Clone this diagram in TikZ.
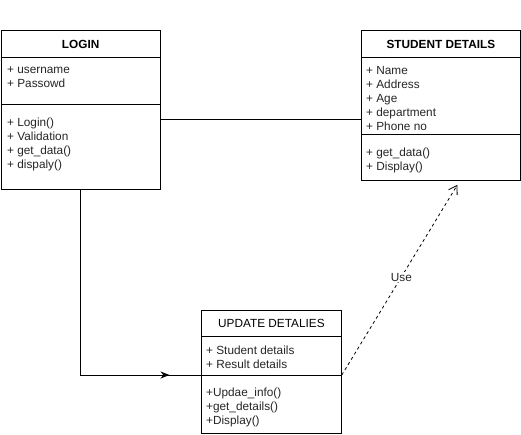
\documentclass[tikz,border=0pt]{standalone}
\usepackage{fontspec}
\setmainfont{Liberation Sans}
\usetikzlibrary{arrows.meta,calc,decorations.markings}
\tikzset{
  umlbox/.style={draw=black, line width=0.8pt, fill=white, inner sep=0pt, anchor=north west},
  txt/.style={anchor=north west, align=left, inner sep=0pt, font=\fontsize{11.8}{14}\selectfont, text=black!85},
  hdr/.style={inner sep=0pt, font=\fontsize{11.8}{14}\selectfont, text=black},
  conn/.style={draw=black, line width=0.8pt},
  usearrow/.style={draw=black, line width=0.8pt, dash pattern=on 3pt off 3pt, -{Straight Barb[length=8pt,width=10pt,line width=0.8pt]}},
}
\begin{document}
\begin{tikzpicture}[x=1pt,y=-1pt]
\useasboundingbox[fill=white] (0,0) rectangle (521,434);
% LOGIN
\node[umlbox, minimum width=159.5pt, minimum height=159pt] (login) at (0.5,30) {};
\draw[conn] ($(login.north west)+(0,27)$) -- ($(login.north east)+(0,27)$);
\draw[conn] ($(login.north west)+(0,74)$) -- ($(login.north east)+(0,74)$);
\node[hdr, font=\fontsize{11.8}{14}\selectfont\bfseries] (loginh) at ($(login.north)+(0,14)$) {LOGIN};
\node[txt] (logina) at (7,66) {+ username\\+ Passowd};
\node[txt] (loginm) at (7,118) {+ Login()\\+ Validation\\+ get\_data()\\+ dispaly()};
% STUDENT DETAILS
\node[umlbox, minimum width=159pt, minimum height=150pt] (student) at (361,30) {};
\draw[conn] ($(student.north west)+(0,27)$) -- ($(student.north east)+(0,27)$);
\draw[conn] ($(student.north west)+(0,104)$) -- ($(student.north east)+(0,104)$);
\node[hdr, font=\fontsize{11.8}{14}\selectfont\bfseries] (studenth) at ($(student.north)+(0,14)$) {STUDENT DETAILS};
\node[txt] (studenta) at (366,66) {+ Name\\+ Address\\+ Age\\+ department\\+ Phone no};
\node[txt] (studentm) at (366,148) {+ get\_data()\\+ Display()};
% UPDATE DETALIES
\node[umlbox, minimum width=140pt, minimum height=123pt] (update) at (201,310) {};
\draw[conn] ($(update.north west)+(0,26)$) -- ($(update.north east)+(0,26)$);
\draw[conn] ($(update.north west)+(0,65)$) -- ($(update.north east)+(0,65)$);
\node[hdr] (updateh) at ($(update.north)+(0,13)$) {UPDATE DETALIES};
\node[txt] (updatea) at (206,346) {+ Student details\\+ Result details};
\node[txt] (updatem) at (206,388) {+Updae\_info()\\+get\_details()\\+Display()};
% connectors
\draw[conn] ($(login.north east)+(0,89)$) -- ($(student.north west)+(0,89)$);
\draw[conn, postaction={decorate, decoration={markings, mark=at position 274pt with {\arrow{Stealth[length=9pt,width=7pt]}}}}]
  (login.south) |- ($(update.north west)+(0,65)$);
\coordinate (useend) at ($(student.south)+(16.5,4)$);
\draw[usearrow] ($(update.north east)+(0,65)$) -- node[pos=0.515, fill=white, inner sep=1pt, font=\fontsize{11.8}{14}\selectfont, text=black!85] (uselbl) {Use} (useend);
\end{tikzpicture}
\end{document}
